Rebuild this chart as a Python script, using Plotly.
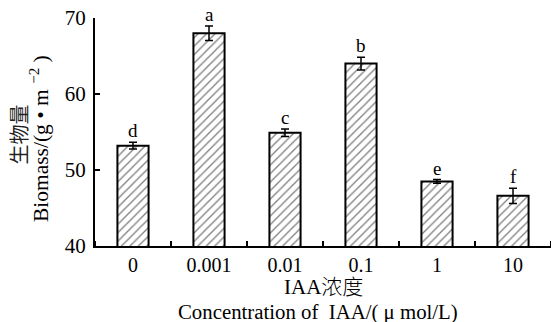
import plotly.graph_objects as go

categories = ["0", "0.001", "0.01", "0.1", "1", "10"]
biomass = [53.2, 68.0, 54.9, 64.0, 48.5, 46.6]
errors = [0.45, 0.95, 0.5, 0.85, 0.25, 1.0]
letters = ["d", "a", "c", "b", "e", "f"]
y_ticks = [40, 50, 60, 70]

SERIF = "'Liberation Serif', 'Times New Roman', 'Noto Sans CJK SC', serif"

fig = go.Figure()
fig.add_trace(go.Bar(
    x=list(range(len(categories))), y=biomass, width=0.41,
    marker=dict(color="white", line=dict(color="black", width=2),
                pattern=dict(shape="/", fgcolor="black", bgcolor="white", size=6, solidity=0.22)),
    error_y=dict(type="data", array=errors, color="black", thickness=1.5, width=4),
))

for i, (v, e, l) in enumerate(zip(biomass, errors, letters)):
    fig.add_annotation(x=i, y=v + e, text=l, showarrow=False, yanchor="bottom", yshift=-1,
                       font=dict(family=SERIF, size=19, color="black"))

fig.add_annotation(xref="paper", yref="paper", x=0.5, y=-0.18, text="IAA浓度", showarrow=False,
                   xanchor="center", yanchor="middle",
                   font=dict(family=SERIF, size=21, color="black", weight=300))
fig.add_annotation(xref="paper", yref="paper", x=0.489, y=-0.289, text="Concentration of  IAA/( μ mol/L)",
                   showarrow=False, xanchor="center", yanchor="middle",
                   font=dict(family=SERIF, size=20.8, color="black"))
fig.add_annotation(xref="paper", yref="paper", x=-0.164, y=0.49, text="生物量", showarrow=False,
                   textangle=-90, xanchor="center", yanchor="middle",
                   font=dict(family=SERIF, size=20, color="#222222"))
fig.add_annotation(xref="paper", yref="paper", x=-0.12, y=0.47, text="Biomass/(g • m <sup>−2</sup> )",
                   showarrow=False, textangle=-90, xanchor="center", yanchor="middle",
                   font=dict(family=SERIF, size=21.5, color="black"))

fig.update_layout(
    width=551, height=322,
    margin=dict(l=95, r=0, t=18, b=76),
    plot_bgcolor="white", paper_bgcolor="white",
    showlegend=False,
    font=dict(family=SERIF, size=20, color="black"),
    xaxis=dict(range=[-0.5, 5.5], tickvals=list(range(len(categories))), ticktext=categories,
               showline=True, linecolor="black", linewidth=2, ticks="", showgrid=False,
               zeroline=False, tickfont=dict(family=SERIF, size=20),
               minor=dict(tickvals=[i - 0.5 for i in range(len(categories) + 1)], ticks="inside",
                          ticklen=5, tickwidth=1.5, tickcolor="black", showgrid=False)),
    yaxis=dict(range=[40, 70], tickvals=y_ticks, showline=True, linecolor="black", linewidth=2,
               ticks="inside", ticklen=5, tickwidth=1.5, tickcolor="black", showgrid=False,
               zeroline=False, tickfont=dict(family=SERIF, size=21),
               ticklabeloverflow="allow", ticklabelstandoff=3),
)

# remove the default 8px page margin so the figure fills the window exactly
fig.write_html("out.html", config={"displayModeBar": False},
               post_script="document.body.style.margin='0';")
